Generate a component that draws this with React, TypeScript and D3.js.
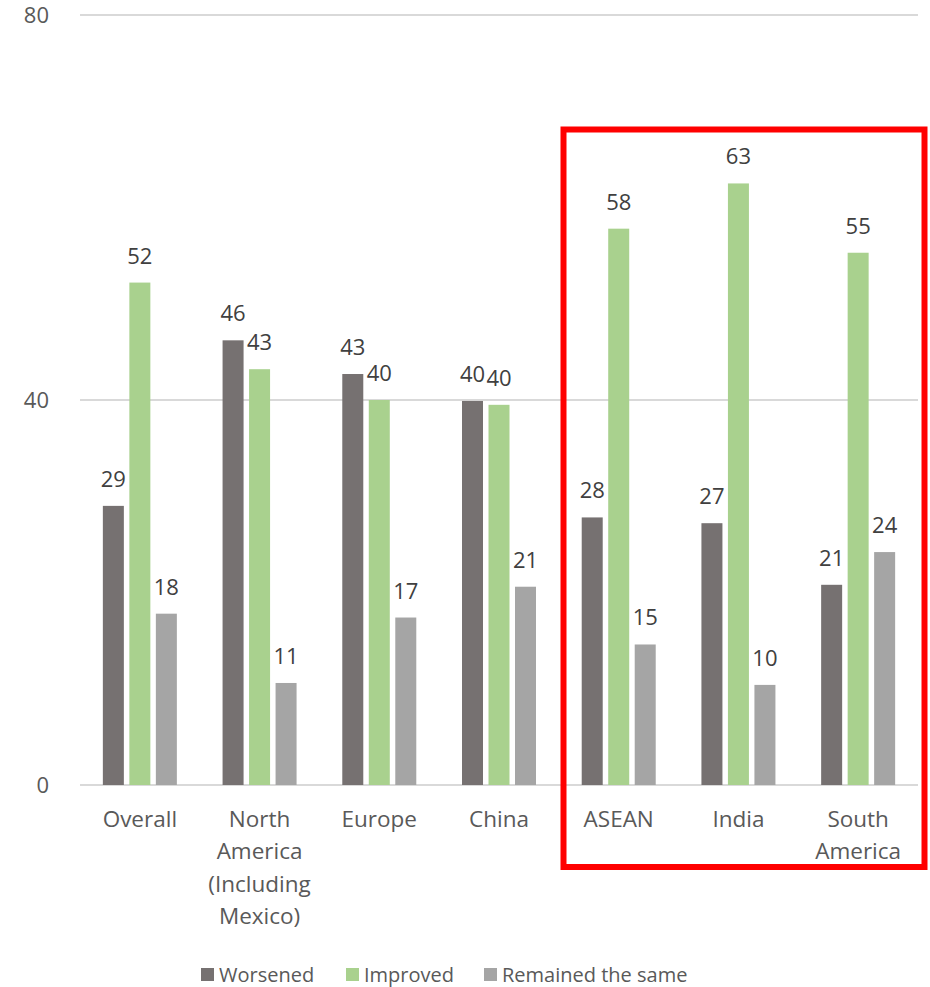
import React from "react";
import * as d3 from "d3";

const categories = ["Overall", "North America (Including Mexico)", "Europe", "China", "ASEAN", "India", "South America"];
const categoryLines = [["Overall"], ["North", "America", "(Including", "Mexico)"], ["Europe"], ["China"], ["ASEAN"], ["India"], ["South", "America"]];
const seriesNames = ["Worsened", "Improved", "Remained the same"];
const worsened = [29.0, 46.2, 42.7, 39.9, 27.8, 27.2, 20.8];
const improved = [52.2, 43.2, 40.0, 39.5, 57.8, 62.5, 55.3];
const remained = [17.8, 10.6, 17.4, 20.6, 14.6, 10.4, 24.2];
const yTicks = [0, 40, 80];

const colors = ["#767171", "#a9d18e", "#a5a5a5"];
const FONT = "'Open Sans', sans-serif";

export default function App() {
  const W = 930, H = 987;
  const x = d3.scaleBand<string>().domain(categories).range([80, 918]);
  const y = d3.scaleLinear().domain([0, 80]).range([785, 15]);
  const series = [worsened, improved, remained];
  const barW = 21;
  const step = 26.5;
  const fmt = d3.format(".0f");

  return (
    <svg width={W} height={H} style={{ position: "absolute", left: 0, top: 0, display: "block", background: "#fff" }} fontFamily={FONT}>
      {yTicks.map((t) => (
        <g key={t}>
          <line x1={80} x2={918} y1={y(t)} y2={y(t)} stroke="#d9d9d9" strokeWidth={2} />
          <text x={49} y={y(t)} dy="0.36em" textAnchor="end" fontSize={22} fill="#595959">{t}</text>
        </g>
      ))}
      {categories.map((c, ci) => {
        const cx = (x(c) as number) + x.bandwidth() / 2;
        const start = cx - 37;
        return (
          <g key={c}>
            {series.map((s, si) => {
              const bx = start + si * step;
              const v = s[ci];
              return (
                <g key={si}>
                  <rect x={bx} y={y(v)} width={barW} height={y(0) - y(v)} fill={colors[si]} />
                  <text x={bx + barW / 2} y={y(v) - 19} textAnchor="middle" fontSize={22} fill="#404040">{fmt(v)}</text>
                </g>
              );
            })}
            {categoryLines[ci].map((ln, li) => (
              <text key={li} x={cx} y={827 + li * 32.4} textAnchor="middle" fontSize={22.5} fill="#595959">{ln}</text>
            ))}
          </g>
        );
      })}
      <rect x={563.5} y={129.5} width={361} height={737.5} fill="none" stroke="#ff0000" strokeWidth={6} />
      {seriesNames.map((n, i) => {
        const lx = [201, 346, 484][i];
        return (
          <g key={n}>
            <rect x={lx} y={968} width={13} height={13} fill={colors[i]} />
            <text x={lx + 18} y={982} fontSize={20} fill="#595959">{n}</text>
          </g>
        );
      })}
    </svg>
  );
}
